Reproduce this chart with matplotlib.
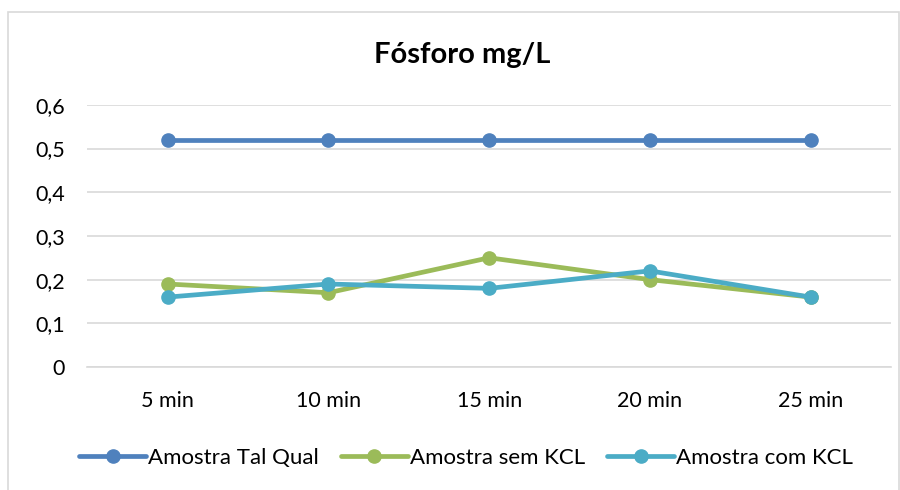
import matplotlib.pyplot as plt
from matplotlib.patches import Rectangle

# data
categories = ["5 min", "10 min", "15 min", "20 min", "25 min"]
tal_qual = [0.52, 0.52, 0.52, 0.52, 0.52]
sem_kcl = [0.19, 0.17, 0.25, 0.20, 0.16]
com_kcl = [0.16, 0.19, 0.18, 0.22, 0.16]
yticks = [0, 0.1, 0.2, 0.3, 0.4, 0.5, 0.6]
ytick_labels = ["0", "0,1", "0,2", "0,3", "0,4", "0,5", "0,6"]

plt.rcParams['font.family'] = ['Lato', 'DejaVu Sans']

fig = plt.figure(figsize=(9, 4.9), dpi=100)
ax = fig.add_axes([0.097, 0.251, 0.893, 0.535])

# chart border like the Excel chart area
fig.patches.append(Rectangle((0.009, -0.01), 0.99, 0.985, transform=fig.transFigure,
                             fill=False, edgecolor='#d9d9d9', linewidth=1.2))

x = range(len(categories))
series = [
    (tal_qual, 'Amostra Tal Qual', '#4F81BD'),
    (sem_kcl, 'Amostra sem KCL', '#9BBB59'),
    (com_kcl, 'Amostra com KCL', '#4BACC6'),
]
for vals, label, color in series:
    ax.plot(x, vals, color=color, linewidth=3.4, marker='o', markersize=9.5,
            label=label, solid_capstyle='round')

ax.set_xlim(-0.5, len(categories) - 0.5)
ax.set_ylim(0, 0.6)
ax.set_yticks(yticks)
ax.set_yticklabels(ytick_labels)
ax.set_xticks(list(x))
ax.set_xticklabels(categories)
ax.tick_params(axis='both', length=0, labelsize=15.5, colors='black')
ax.tick_params(axis='y', pad=16)
ax.tick_params(axis='x', pad=17)
ax.grid(axis='y', color='#d9d9d9', linewidth=1.2)
ax.set_axisbelow(True)
for s in ['top', 'right', 'left']:
    ax.spines[s].set_visible(False)
ax.spines['bottom'].set_color('#d9d9d9')
ax.spines['bottom'].set_linewidth(1.2)

fig.text(0.513, 0.888, 'Fósforo mg/L', ha='center', va='center', fontsize=21, fontweight='bold')

fig.legend(loc='center', bbox_to_anchor=(0.518, 0.065), ncol=3, frameon=False,
           fontsize=16, handlelength=3.0, handletextpad=0.1, columnspacing=1.0)

fig.savefig('out.png', dpi=100)
